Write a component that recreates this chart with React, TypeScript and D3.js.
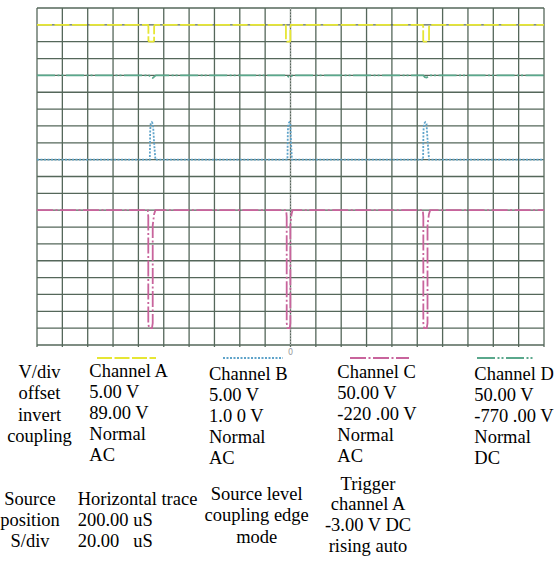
import * as d3 from "d3";
import React, { useEffect, useRef } from "react";

// screen: 20 x 20 divisions, 20 uS per division
const timeDomain = [-200, 200];
const divDomain = [-10, 10];

const channelNames = ["Channel A", "Channel B", "Channel C", "Channel D"];
const channelColors = ["#e6e634", "#5ea3c9", "#c8649c", "#5aa88c"];
const voltsPerDiv = [5, 5, 50, 50];
const traceLevels = [9, 1, -2, 6]; // where each channel's zero sits (div)
const dashPatterns = ["15 2.5", "2 1.5", "16 2.5 2 2.5", "18 2.5 2 2 2 2.5"];

// [time uS, volts]
const channelA = [
  [-200, 0], [-112.4, 0], [-112.1, -0.6], [-112.1, -4.7], [-111.5, -5], [-108.2, -5], [-107.6, -4.7], [-107.6, -0.6], [-107.2, 0],
  [-3.9, 0], [-3.6, -0.6], [-3.6, -4.7], [-3.0, -5], [-0.6, -5], [-0.1, -4.7], [-0.1, -0.6], [0.3, 0],
  [104.4, 0], [104.7, -0.6], [104.7, -4.7], [105.3, -5], [108.7, -5], [109.3, -4.7], [109.3, -0.6], [109.7, 0],
  [200, 0],
];
const channelB = [
  [-200, 0], [-111.0, 0], [-110.7, 8.5], [-110.3, 10.7], [-109.4, 11.1], [-108.5, 10.6], [-107.6, 5], [-106.6, 0],
  [-2.4, 0], [-2.1, 8.5], [-1.7, 10.7], [-0.9, 11.1], [-0.1, 10.6], [0.4, 5], [1.1, 0],
  [104.6, 0], [104.9, 8.5], [105.4, 10.7], [106.3, 11.1], [107.3, 10.6], [108.3, 5], [109.3, 0],
  [200, 0],
];
const channelC = [
  [-200, 0], [-112.6, 0], [-112.2, -20], [-112.2, -335], [-111.6, -350], [-109.3, -350], [-108.7, -335], [-108.7, -45], [-107.6, -12], [-106.6, 0],
  [-3.4, 0], [-3.0, -20], [-3.0, -335], [-2.4, -350], [-0.6, -350], [-0.1, -335], [-0.1, -45], [0.8, -12], [1.6, 0],
  [104.4, 0], [104.8, -20], [104.8, -335], [105.4, -350], [107.5, -350], [108.1, -335], [108.1, -45], [109.2, -12], [110.2, 0],
  [200, 0],
];
const channelD = [
  [-200, 0], [-111.6, 0], [-110.2, -6], [-108.7, -7.5], [-107.2, -3], [-106.2, 0],
  [-2.8, 0], [-1.6, -4], [-0.4, -5], [0.8, -2], [1.6, 0],
  [104.8, 0], [106.0, -5], [107.4, -6.5], [108.8, -3], [109.8, 0],
  [200, 0],
];
const channelData = [channelA, channelB, channelC, channelD];

const rowLabels = ["V/div", "offset", "invert", "coupling"];
const channelSettings = [
  ["5.00 V", "89.00 V", "Normal", "AC"],
  ["5.00 V", "1.0 0 V", "Normal", "AC"],
  ["50.00 V", "-220 .00 V", "Normal", "AC"],
  ["50.00 V", "-770 .00 V", "Normal", "DC"],
];
const timebaseLabels = ["Source", "position", "S/div"];
const timebaseValues = ["Horizontal trace", "200.00 uS", "20.00   uS"];
const triggerLabels = ["Source level", "coupling edge", "mode"];
const triggerValues = ["Trigger", "channel A", "-3.00 V DC", "rising auto"];

const width = 555;
const height = 563;

export default function App() {
  const ref = useRef<SVGSVGElement>(null);

  useEffect(() => {
    const svg = d3.select(ref.current);
    svg.selectAll("*").remove();

    const x = d3.scaleLinear().domain(timeDomain).range([37, 544]);
    const y = d3.scaleLinear().domain(divDomain).range([345, 8]);
    const font = '"Liberation Serif", "Times New Roman", Times, serif';

    const grid = svg.append("g").attr("stroke", "#55675a").attr("stroke-width", 1.3);
    grid
      .selectAll("line.v")
      .data(d3.range(timeDomain[0], timeDomain[1] + 1, 20))
      .join("line")
      .attr("class", "v")
      .attr("x1", (d) => x(d))
      .attr("x2", (d) => x(d))
      .attr("y1", y(10))
      .attr("y2", y(-10) + 2);
    grid
      .selectAll("line.h")
      .data(d3.range(divDomain[0], divDomain[1] + 1, 1))
      .join("line")
      .attr("class", "h")
      .attr("x1", x(-200))
      .attr("x2", x(200))
      .attr("y1", (d) => y(d))
      .attr("y2", (d) => y(d));

    // trigger position marker
    svg
      .append("line")
      .attr("x1", x(0))
      .attr("x2", x(0))
      .attr("y1", y(10))
      .attr("y2", y(-10))
      .attr("stroke", "#a8a8a8")
      .attr("stroke-width", 1)
      .attr("stroke-dasharray", "1.5 1.5");
    svg
      .append("text")
      .attr("x", x(0))
      .attr("y", 355)
      .attr("text-anchor", "middle")
      .style("font-family", '"DejaVu Sans", sans-serif')
      .style("font-size", "8px")
      .attr("fill", "#9a9a9a")
      .text("0");

    channelData.forEach((data, i) => {
      const line = d3
        .line<number[]>()
        .x((d) => x(d[0]))
        .y((d) => y(traceLevels[i] + d[1] / voltsPerDiv[i]))
        .curve(d3.curveLinear);
      svg
        .append("path")
        .attr("d", line(data))
        .attr("fill", "none")
        .attr("stroke", channelColors[i])
        .attr("stroke-width", 1.8)
        .attr("stroke-dasharray", dashPatterns[i]);
    });

    // settings table
    const colX = [89.3, 209, 337.3, 474.3];
    const colTop = [377.3, 380, 378.3, 380];
    const sampleX = [[97, 156], [223, 283], [350, 409], [477, 535]];

    const txt = svg
      .append("g")
      .style("font-family", font)
      .style("font-size", "18.5px")
      .attr("fill", "#000");

    txt
      .selectAll("text.row")
      .data(rowLabels)
      .join("text")
      .attr("class", "row")
      .attr("x", 39.5)
      .attr("y", (d, j) => 378 + j * 21.3)
      .attr("text-anchor", "middle")
      .text((d) => d);

    channelNames.forEach((name, i) => {
      svg
        .append("line")
        .attr("x1", sampleX[i][0])
        .attr("x2", sampleX[i][1])
        .attr("y1", 358)
        .attr("y2", 358)
        .attr("stroke", channelColors[i])
        .attr("stroke-width", 1.8)
        .attr("stroke-dasharray", dashPatterns[i]);
      txt
        .selectAll(`text.ch${i}`)
        .data([name, ...channelSettings[i]])
        .join("text")
        .attr("class", `ch${i}`)
        .attr("x", colX[i])
        .attr("y", (d, j) => colTop[i] + j * 21)
        .style("white-space", "pre")
        .text((d) => d);
    });

    txt
      .selectAll("text.tbl")
      .data(timebaseLabels)
      .join("text")
      .attr("class", "tbl")
      .attr("x", 30)
      .attr("y", (d, j) => 505 + j * 21)
      .attr("text-anchor", "middle")
      .text((d) => d);
    txt
      .selectAll("text.tbv")
      .data(timebaseValues)
      .join("text")
      .attr("class", "tbv")
      .attr("x", 77.7)
      .attr("y", (d, j) => 504.5 + j * 21)
      .style("white-space", "pre")
      .text((d) => d);
    txt
      .selectAll("text.trl")
      .data(triggerLabels)
      .join("text")
      .attr("class", "trl")
      .attr("x", 256.7)
      .attr("y", (d, j) => 500 + j * 21.3)
      .attr("text-anchor", "middle")
      .text((d) => d);
    txt
      .selectAll("text.trv")
      .data(triggerValues)
      .join("text")
      .attr("class", "trv")
      .attr("x", 368)
      .attr("y", (d, j) => 489.5 + j * 20.9)
      .attr("text-anchor", "middle")
      .text((d) => d);
  }, []);

  return (
    <div style={{ position: "absolute", left: 0, top: 0 }}>
      <svg ref={ref} width={width} height={height} style={{ display: "block", background: "#fff" }} />
    </div>
  );
}
